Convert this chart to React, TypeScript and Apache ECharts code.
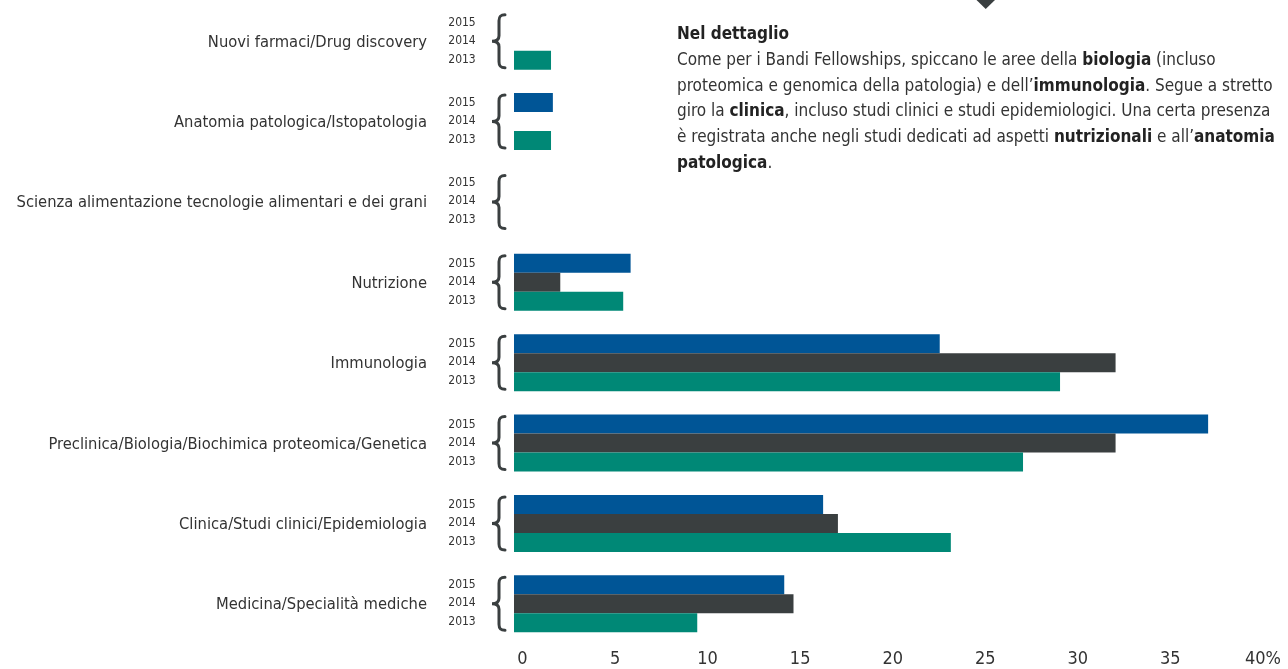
import React, { useEffect, useRef } from "react";
import * as echarts from "echarts";

const categories = [
  "Nuovi farmaci/Drug discovery",
  "Anatomia patologica/Istopatologia",
  "Scienza alimentazione tecnologie alimentari e dei grani",
  "Nutrizione",
  "Immunologia",
  "Preclinica/Biologia/Biochimica proteomica/Genetica",
  "Clinica/Studi clinici/Epidemiologia",
  "Medicina/Specialità mediche",
];
const years = ["2015", "2014", "2013"];
const values2015 = [0, 2.1, 0, 6.3, 23.0, 37.5, 16.7, 14.6];
const values2014 = [0, 0, 0, 2.5, 32.5, 32.5, 17.5, 15.1];
const values2013 = [2.0, 2.0, 0, 5.9, 29.5, 27.5, 23.6, 9.9];
const xTicks = { min: 0, max: 40, interval: 5 };

const FONT = "'DejaVu Sans Condensed', 'Liberation Sans Narrow', sans-serif";
const COLORS = ["#005596", "#3a3f40", "#008876"];
const TEXT = "#333333";
const BRACE = "M13 0 C8 0 7 2 7 6 L7 21 C7 24.5 5 26.5 0 26.5 C5 26.5 7 28.5 7 32 L7 47 C7 51 8 53 13 53";
const YEAR_OFFSETS = [-19.5, -1.5, 17.5];

export default function App() {
  const ref = useRef<HTMLDivElement>(null);
  useEffect(() => {
    if (!ref.current) return;
    const chart = echarts.init(ref.current, undefined, { renderer: "svg" });
    const seriesValues = [values2015, values2014, values2013];
    chart.setOption({
      animation: false,
      textStyle: { fontFamily: FONT },
      grid: { left: 514, right: 33.6, top: 1, height: 643, containLabel: false, outerBoundsMode: "none" },
      xAxis: {
        type: "value",
        min: xTicks.min,
        max: xTicks.max,
        interval: xTicks.interval,
        axisLine: { show: false },
        axisTick: { show: false },
        splitLine: { show: false },
        axisLabel: {
          formatter: (v: number) => (v === xTicks.max ? v + "%" : String(v)),
          fontSize: 18,
          color: TEXT,
          fontFamily: FONT,
          margin: 4,
          padding: [0, 0, 0, 17],
        },
      },
      yAxis: {
        type: "category",
        data: categories,
        inverse: true,
        axisLine: { show: false },
        axisTick: { show: false },
        splitLine: { show: false },
        axisLabel: { fontSize: 16.4, color: TEXT, fontFamily: FONT, margin: 87 },
      },
      series: [
        ...years.map((yr, k) => ({
          type: "bar",
          name: yr,
          data: seriesValues[k],
          barWidth: 19,
          barGap: "0%",
          itemStyle: { color: COLORS[k] },
          silent: true,
        })),
        {
          type: "custom",
          silent: true,
          clip: false,
          encode: { x: 0, y: 1 },
          data: categories.map((_, i) => [0, i]),
          renderItem: (params: any, api: any) => {
            const idx = api.value(1);
            const pt = api.coord([0, idx]);
            const x0 = pt[0];
            const yc = pt[1];
            return {
              type: "group",
              children: [
                {
                  type: "path",
                  shape: { pathData: BRACE, x: x0 - 22, y: yc - 26.5, width: 13, height: 53 },
                  style: { fill: "none", stroke: "#3a3f40", lineWidth: 3, lineCap: "round" },
                },
                ...years.map((yr, k) => ({
                  type: "text",
                  x: x0 - 52,
                  y: yc + YEAR_OFFSETS[k],
                  style: {
                    text: yr,
                    fontSize: 12,
                    fontFamily: FONT,
                    fill: TEXT,
                    align: "center",
                    verticalAlign: "middle",
                  },
                })),
              ],
            };
          },
        },
      ],
      graphic: [
        {
          type: "polygon",
          shape: { points: [[976.5, 0], [995, 0], [985.7, 9]] },
          style: { fill: "#3a3f40" },
        },
        {
          type: "text",
          x: 677,
          y: 20,
          style: {
            text:
              "{b|Nel dettaglio}\n" +
              "Come per i Bandi Fellowships, spiccano le aree della {b|biologia} (incluso\n" +
              "proteomica e genomica della patologia) e dell’{b|immunologia}. Segue a stretto\n" +
              "giro la {b|clinica}, incluso studi clinici e studi epidemiologici. Una certa presenza\n" +
              "è registrata anche negli studi dedicati ad aspetti {b|nutrizionali} e all’{b|anatomia}\n" +
              "{b|patologica}.",
            fontSize: 17,
            fontFamily: FONT,
            fill: TEXT,
            lineHeight: 25.8,
            rich: {
              b: { fontSize: 17, fontFamily: FONT, fontWeight: "bold", fill: "#222", lineHeight: 25.8 },
            },
          },
        },
      ],
    });
    return () => chart.dispose();
  }, []);
  return <div ref={ref} style={{ position: "fixed", left: 0, top: 0, width: 1288, height: 669 }} />;
}
